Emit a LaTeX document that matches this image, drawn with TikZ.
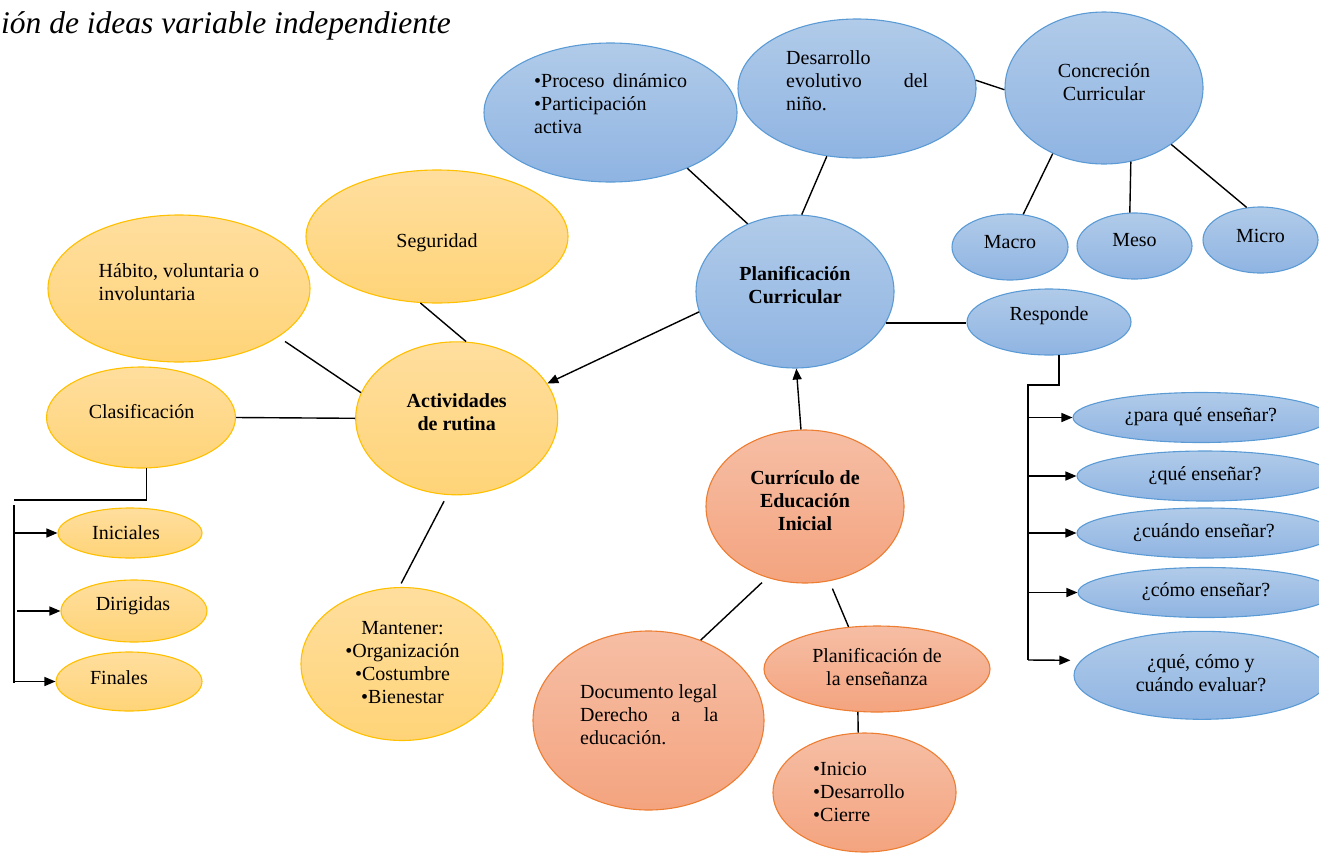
\documentclass[tikz,border=0pt]{standalone}
\usepackage{fontspec}
\setmainfont{Liberation Serif}
\usetikzlibrary{shapes.geometric,arrows.meta,calc}
\definecolor{bluetop}{HTML}{B1CBE9}
\definecolor{bluebot}{HTML}{8FB4E2}
\definecolor{blueline}{HTML}{5B9BD5}
\definecolor{goldtop}{HTML}{FFDE9E}
\definecolor{goldbot}{HTML}{FFD478}
\definecolor{goldline}{HTML}{FFC000}
\definecolor{saltop}{HTML}{F6BEA5}
\definecolor{salbot}{HTML}{F4A47F}
\definecolor{salline}{HTML}{ED7D31}
\begin{document}
\begin{tikzpicture}[x=1pt,y=-1pt,
  shp/.style 2 args={ellipse, inner sep=0pt, line width=1.1pt, minimum width=#1pt, minimum height=#2pt},
  bluee/.style={draw=blueline, top color=bluetop, bottom color=bluebot},
  golde/.style={draw=goldline, top color=goldtop, bottom color=goldbot},
  sale/.style={draw=salline, top color=saltop, bottom color=salbot},
  txt/.style={inner sep=0pt, font=\fontsize{20}{23}\selectfont, align=center},
  btxt/.style={txt, font=\fontsize{20}{23}\selectfont\bfseries},
  link/.style={line width=1.4pt, black},
  arr/.style={link, -{Triangle[length=11pt,width=9pt]}}
]
\useasboundingbox (0,0) rectangle (1319,852);
\clip (0,0) rectangle (1319,852);

% title
\node[txt, font=\fontsize{31.5}{36}\selectfont\itshape, anchor=base west] (title) at (1,33) {ión de ideas variable independiente};

% blue ellipses
\node[shp={253}{139}, bluee] (proc) at (610.5,112.5) {};
\node[shp={238}{139}, bluee] (des) at (857,88.5) {};
\node[shp={198}{152}, bluee] (conc) at (1104,88) {};
\node[shp={116}{66}, bluee] (macro) at (1010,247) {};
\node[shp={115}{66}, bluee] (meso) at (1134.5,246) {};
\node[shp={115}{66}, bluee] (micro) at (1260.5,240) {};
\node[shp={198}{153}, bluee] (pc) at (795,291.5) {};
\node[shp={164}{66}, bluee] (resp) at (1049,322) {};
\node[shp={256}{50}, bluee] (q1) at (1201,417.5) {};
\node[shp={256}{50}, bluee] (q2) at (1205,476) {};
\node[shp={256}{50}, bluee] (q3) at (1205,533) {};
\node[shp={256}{50}, bluee] (q4) at (1206,592.5) {};
\node[shp={256}{88}, bluee] (q5) at (1202,675.3) {};

% salmon ellipses
\node[shp={198}{153}, sale] (cur) at (805,506.5) {};
\node[shp={231}{179}, sale] (doc) at (648.5,720.5) {};
\node[shp={226}{86}, sale] (pe) at (877,669) {};
\node[shp={183}{119}, sale] (ini) at (864.5,792.5) {};

% gold ellipses
\node[shp={202}{153}, golde] (act) at (456.7,418.3) {};
\node[shp={262}{133}, golde] (seg) at (437,236.5) {};
\node[shp={262}{147}, golde] (hab) at (179,288.5) {};
\node[shp={189}{101}, golde] (clas) at (141,417.5) {};
\node[shp={202}{153}, golde] (man) at (402,664) {};
\node[shp={144}{50}, golde] (inic) at (130,533) {};
\node[shp={146}{62}, golde] (dir) at (134,611) {};
\node[shp={146}{59}, golde] (fin) at (129,681.5) {};

% texts
\node[txt, align=left, anchor=west] (proc-t) at (534,104) {\makebox[153pt][s]{•Proceso dinámico}\\•Participación\\activa};
\node[txt, align=left, anchor=west] (des-t) at (786,80.7) {Desarrollo\\\makebox[142pt][s]{evolutivo del}\\niño.};
\node[txt] (conc-t) at (1104,82) {Concreción\\Curricular};
\node[txt] (macro-t) at (1010,242) {Macro};
\node[txt] (meso-t) at (1134.5,240) {Meso};
\node[txt] (micro-t) at (1260.5,236) {Micro};
\node[btxt] (pc-t) at (795,285.5) {Planificación\\Curricular};
\node[txt] (resp-t) at (1049,316) {Responde};
\node[txt] (q1-t) at (1201,417) {¿para qué enseñar?};
\node[txt] (q2-t) at (1205,476) {¿qué enseñar?};
\node[txt] (q3-t) at (1204,533) {¿cuándo enseñar?};
\node[txt] (q4-t) at (1206,592) {¿cómo enseñar?};
\node[txt] (q5-t) at (1201,673.5) {¿qué, cómo y\\cuándo evaluar?};
\node[btxt] (cur-t) at (805,500.7) {Currículo de\\Educación\\Inicial};
\node[txt, align=left, anchor=west] (doc-t) at (580,714.3) {Documento legal\\\makebox[138pt][s]{Derecho a la}\\educación.};
\node[txt] (pe-t) at (877,667.5) {Planificación de\\la enseñanza};
\node[txt, align=left, anchor=west] (ini-t) at (813,792) {•Inicio\\•Desarrollo\\•Cierre};
\node[btxt] (act-t) at (456.7,412.5) {Actividades\\de rutina};
\node[txt] (seg-t) at (437,243) {Seguridad};
\node[txt, align=left, anchor=west] (hab-t) at (98.5,282) {Hábito, voluntaria o\\involuntaria};
\node[txt] (clas-t) at (141.6,412) {Clasificación};
\node[txt] (man-t) at (402.5,662.5) {Mantener:\\•Organización\\•Costumbre\\•Bienestar};
\node[txt] (inic-t) at (126,533) {Iniciales};
\node[txt] (dir-t) at (133,606) {Dirigidas};
\node[txt] (fin-t) at (119,678) {Finales};

% connectors (blue part)
\draw[link] (proc.-36) -- (pc.125);
\draw[link] (des.-114) -- (pc.85.5);
\draw[link] (des.4) -- (conc.181);
\draw[link] (conc.232) -- (macro.68);
\draw[link] (conc.-70) -- (meso.98);
\draw[link] (conc.-40) -- (micro.113);
\draw[link] (pc.-19) -- (pc.-19 -| resp.west);
\coordinate (rtop) at (1028,385);
\coordinate (rbot) at (1028,660);
\draw[link] (resp.-73) |- (rtop) -- (rbot);
\draw[arr] (rtop |- q1.west) -- (q1.west);
\draw[arr] (rtop |- q2.west) -- (q2.west);
\draw[arr] (rtop |- q3.west) -- (q3.west);
\draw[arr] (rtop |- q4.west) -- (q4.west);
\coordinate (q5in) at ($(q5.west)+(-3,-15)$);
\draw[arr] (rbot) -- (q5in);

% main arrows
\draw[arr] (pc.-168.6) -- (act.21);
\draw[arr] (cur.93) -- (pc.-89.3);

% salmon part
\draw[link, shorten <=7pt] (cur.242) -- (doc.57.4);
\draw[link, shorten <=8pt] (cur.-72) -- (pe.124.6);
\draw[link] (pe.246.6) -- (ini.96.2);

% gold part
\draw[link] (seg.256.2) -- (act.83.5);
\draw[link, shorten <=8pt] (hab.-26.5) -- (act.165.5);
\draw[link] (clas.east) -- (act.west);
\draw[link, shorten <=7pt, shorten >=4pt] (act.263.9) -- (man.92.6);
\coordinate (lh) at (14,500);
\coordinate (ltop) at (14,505);
\coordinate (lbot) at (14,683);
\draw[link] (clas.-84) |- (lh);
\draw[link] (ltop) -- (lbot);
\draw[arr] (ltop |- inic.west) -- (inic.west);
\draw[arr, shorten <=3pt] (ltop |- dir.west) -- (dir.west);
\draw[arr] (lbot |- fin.west) -- (fin.west);
\end{tikzpicture}
\end{document}
